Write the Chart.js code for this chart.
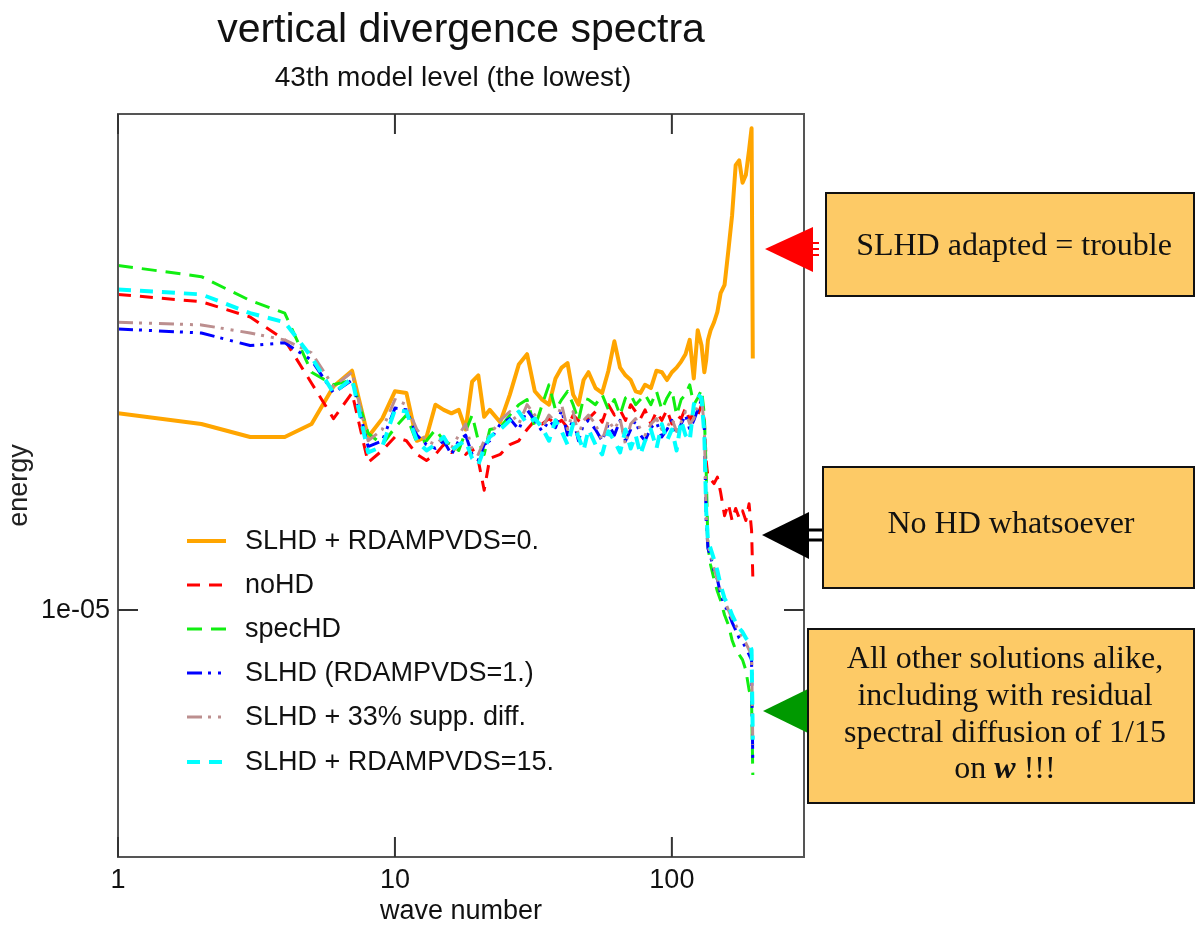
<!DOCTYPE html>
<html>
<head>
<meta charset="utf-8">
<title>vertical divergence spectra</title>
<script src="https://cdn.jsdelivr.net/npm/chart.js@4.4.1/dist/chart.umd.min.js"></script>
<style>
  html, body { margin: 0; padding: 0; background: #fff; }
  #wrap { width: 1196px; height: 926px; }
</style>
</head>
<body>
<div id="wrap"><canvas id="grafico" width="1196" height="926"></canvas></div>
<script>
// wave numbers where the spectra are sampled
const ondas = [1,2,3,4,5,6,7,8,9,10,11,12,13,14,15,16,17,18,19,20,21,22,
  24,26,28,30,32,34,36,38,40,42,44,46,48,50,
  53,56,59,62,65,68,71,74,77,80,
  84,88,92,96,100,104,108,112,116,120,124,128,
  131,133,135,
  138,142,146,150,
  155,160,165,170,175,180,185,190,
  194,196];

// energy of each run, in units of 1e-5
const slhdZero = [1.84,1.78,1.71,1.71,1.78,2.00,2.10,1.71,1.81,1.97,1.96,1.69,1.71,1.89,1.86,1.84,1.86,1.75,2.03,2.07,1.82,1.86,
  1.79,1.95,2.14,2.21,1.97,1.92,1.89,2.05,2.12,2.15,1.95,1.89,2.04,2.09,
  1.99,1.96,2.10,2.30,2.12,2.07,2.04,1.97,1.96,2.01,
  1.99,2.10,2.09,2.04,2.09,2.12,2.16,2.21,2.31,2.05,2.38,2.27,
  2.09,2.17,2.31,
  2.38,2.44,2.52,2.67,
  2.74,3.05,3.40,3.97,4.03,3.76,3.85,4.16,
  4.45,2.18];
const noHD = [2.66,2.60,2.48,2.31,2.02,1.81,1.96,1.58,1.64,1.71,1.69,1.62,1.59,1.62,1.67,1.63,1.67,1.62,1.65,1.59,1.45,1.60,
  1.62,1.67,1.69,1.75,1.80,1.78,1.81,1.78,1.80,1.76,1.83,1.80,1.78,1.81,
  1.85,1.79,1.89,1.83,1.86,1.80,1.89,1.85,1.81,1.86,
  1.78,1.85,1.80,1.86,1.78,1.83,1.81,1.87,1.80,1.85,1.83,1.89,
  1.80,1.59,1.51,
  1.50,1.48,1.51,1.44,
  1.34,1.39,1.32,1.37,1.33,1.36,1.32,1.39,
  1.28,1.11];
const specHD = [2.91,2.81,2.61,2.51,2.09,2.01,2.04,1.73,1.67,1.76,1.83,1.68,1.69,1.75,1.69,1.67,1.64,1.74,1.83,1.69,1.62,1.75,
  1.76,1.83,1.89,1.92,1.76,1.89,2.01,1.86,1.92,1.97,1.89,1.80,1.93,1.92,
  1.89,1.95,1.86,1.92,1.83,1.93,1.95,1.89,1.92,1.95,
  1.89,1.97,1.86,1.93,1.98,1.83,1.92,1.95,2.01,1.89,1.93,1.98,
  1.83,1.54,1.22,
  1.15,1.10,1.06,1.03,
  0.985,0.955,0.911,0.884,0.871,0.857,0.830,0.781,
  0.757,0.600];
const slhdUm = [2.39,2.36,2.27,2.29,2.17,1.96,2.04,1.66,1.69,1.87,1.86,1.72,1.67,1.65,1.69,1.62,1.69,1.72,1.62,1.59,1.67,1.69,
  1.78,1.81,1.75,1.86,1.80,1.74,1.80,1.76,1.86,1.72,1.81,1.69,1.78,1.80,
  1.75,1.69,1.78,1.72,1.80,1.69,1.75,1.80,1.72,1.69,
  1.76,1.79,1.71,1.75,1.80,1.72,1.78,1.83,1.75,1.80,1.86,1.92,
  1.75,1.32,1.21,
  1.18,1.13,1.10,1.05,
  1.015,0.994,0.963,0.940,0.917,0.906,0.889,0.871,
  0.857,0.622];
const slhdSupp = [2.44,2.42,2.36,2.31,2.22,2.00,2.09,1.69,1.75,1.92,1.89,1.75,1.69,1.67,1.71,1.65,1.72,1.78,1.64,1.62,1.69,1.72,
  1.80,1.85,1.78,1.89,1.83,1.76,1.83,1.79,1.89,1.75,1.85,1.72,1.80,1.83,
  1.78,1.69,1.80,1.75,1.81,1.67,1.78,1.81,1.75,1.72,
  1.78,1.81,1.75,1.76,1.81,1.74,1.79,1.85,1.78,1.81,1.89,1.93,
  1.76,1.34,1.22,
  1.19,1.14,1.10,1.06,
  1.031,1.000,0.975,0.955,0.934,0.917,0.903,0.884,
  0.871,0.659];
const slhdQuinze = [2.70,2.66,2.51,2.44,2.19,1.96,2.05,1.63,1.66,1.86,1.85,1.69,1.64,1.67,1.71,1.64,1.67,1.69,1.60,1.57,1.65,1.71,
  1.75,1.80,1.85,1.78,1.81,1.76,1.69,1.80,1.74,1.67,1.78,1.71,1.64,1.75,
  1.67,1.62,1.74,1.69,1.63,1.75,1.65,1.72,1.62,1.69,
  1.75,1.65,1.78,1.69,1.75,1.64,1.80,1.72,1.69,1.89,1.95,1.93,
  1.72,1.36,1.24,
  1.21,1.17,1.13,1.08,
  1.037,1.015,0.985,0.963,0.946,0.934,0.917,0.906,
  0.884,0.669];

const UNIDADE = 1e-5;
const X_TICKS = [1, 10, 100];
const X_LABELS = ['1', '10', '100'];
const Y_TICKS = [1e-5];
const Y_LABELS = ['1e-05'];

const SANS = "'Liberation Sans', Arial, sans-serif";
const SERIF = "'Liberation Serif', 'Times New Roman', serif";

const series = [
  { label: 'SLHD + RDAMPVDS=0.', vals: slhdZero, cor: '#ffa500', dash: [], largura: 4, ordem: 5 },
  { label: 'noHD', vals: noHD, cor: '#ff0000', dash: [13, 9], largura: 3, ordem: 4 },
  { label: 'specHD', vals: specHD, cor: '#11ee11', dash: [15, 9], largura: 3, ordem: 3 },
  { label: 'SLHD (RDAMPVDS=1.)', vals: slhdUm, cor: '#0000ff', dash: [15, 6, 3, 7, 3, 7], largura: 3, ordem: 2 },
  { label: 'SLHD + 33% supp. diff.', vals: slhdSupp, cor: '#bc8f8f', dash: [15, 6, 3, 7, 3, 7], largura: 3, ordem: 1 },
  { label: 'SLHD + RDAMPVDS=15.', vals: slhdQuinze, cor: '#00ffff', dash: [13, 9], largura: 4, ordem: 0 }
];

// frame with inward ticks on all four sides
const moldura = {
  id: 'moldura',
  afterDatasetsDraw(chart) {
    const { ctx, chartArea: a, scales: { x, y } } = chart;
    ctx.save();
    ctx.strokeStyle = '#555';
    ctx.lineWidth = 2;
    ctx.strokeRect(a.left, a.top, a.right - a.left, a.bottom - a.top);
    ctx.strokeStyle = '#333';
    ctx.beginPath();
    X_TICKS.forEach(v => {
      const px = x.getPixelForValue(v);
      ctx.moveTo(px, a.bottom); ctx.lineTo(px, a.bottom - 20);
      ctx.moveTo(px, a.top); ctx.lineTo(px, a.top + 20);
    });
    Y_TICKS.forEach(v => {
      const py = y.getPixelForValue(v);
      ctx.moveTo(a.left, py); ctx.lineTo(a.left + 20, py);
      ctx.moveTo(a.right, py); ctx.lineTo(a.right - 20, py);
    });
    ctx.stroke();
    ctx.restore();
  }
};

// legend inside the plot, bottom left
const legenda = {
  id: 'legenda',
  afterDraw(chart) {
    const ctx = chart.ctx;
    const linhas = [541, 585, 629, 673, 717, 762];
    ctx.save();
    chart.data.datasets.forEach((ds, i) => {
      const yy = linhas[i];
      ctx.beginPath();
      ctx.strokeStyle = ds.borderColor;
      ctx.lineWidth = ds.borderWidth;
      ctx.setLineDash(ds.borderDash || []);
      ctx.moveTo(187, yy);
      ctx.lineTo(226, yy);
      ctx.stroke();
      ctx.setLineDash([]);
      ctx.fillStyle = '#111';
      ctx.font = '27px ' + SANS;
      ctx.textBaseline = 'middle';
      ctx.textAlign = 'left';
      ctx.fillText(ds.label, 245, yy + 1);
    });
    ctx.restore();
  }
};

// titles and the three comment boxes on the right
const notas = {
  id: 'notas',
  afterDraw(chart) {
    const ctx = chart.ctx;
    ctx.save();
    ctx.fillStyle = '#111';
    ctx.textAlign = 'center';
    ctx.textBaseline = 'alphabetic';
    ctx.font = '41px ' + SANS;
    ctx.fillText('vertical divergence spectra', 461, 42);
    ctx.font = '28px ' + SANS;
    ctx.fillText('43th model level (the lowest)', 453, 86);

    function caixa(x0, y0, x1, y1) {
      ctx.fillStyle = '#fdca66';
      ctx.fillRect(x0, y0, x1 - x0, y1 - y0);
      ctx.strokeStyle = '#111';
      ctx.lineWidth = 2;
      ctx.strokeRect(x0, y0, x1 - x0, y1 - y0);
    }
    function seta(cor, ponta, topo, base, xb) {
      ctx.fillStyle = cor;
      ctx.beginPath();
      ctx.moveTo(ponta[0], ponta[1]);
      ctx.lineTo(xb, topo);
      ctx.lineTo(xb, base);
      ctx.closePath();
      ctx.fill();
    }

    // red arrow + box 1
    seta('#ff0000', [765, 249], 227, 272, 813);
    ctx.strokeStyle = '#ff0000';
    ctx.lineWidth = 2;
    ctx.beginPath();
    [243, 249, 255].forEach(yy => { ctx.moveTo(812, yy); ctx.lineTo(819, yy); });
    ctx.stroke();
    caixa(826, 193, 1194, 296);

    // black arrow + box 2
    seta('#000000', [762, 535], 512, 559, 809);
    ctx.strokeStyle = '#000';
    ctx.lineWidth = 3;
    ctx.beginPath();
    [530, 540].forEach(yy => { ctx.moveTo(806, yy); ctx.lineTo(824, yy); });
    ctx.stroke();
    caixa(823, 467, 1194, 588);

    // green arrow + box 3
    seta('#009900', [763, 711], 688, 734, 810);
    caixa(808, 629, 1194, 803);

    ctx.fillStyle = '#111';
    ctx.textAlign = 'center';
    ctx.font = '32px ' + SERIF;
    ctx.fillText('SLHD adapted = trouble', 1014, 255);
    ctx.fillText('No HD whatsoever', 1011, 533);
    ctx.fillText('All other solutions alike,', 1005, 668);
    ctx.fillText('including with residual', 1005, 705);
    ctx.fillText('spectral diffusion of 1/15', 1005, 742);

    // last line mixes a bold italic "w"
    const p1 = 'on ', p2 = 'w', p3 = ' !!!';
    ctx.font = '32px ' + SERIF;
    const w1 = ctx.measureText(p1).width, w3 = ctx.measureText(p3).width;
    ctx.font = 'italic bold 32px ' + SERIF;
    const w2 = ctx.measureText(p2).width;
    let xx = 1005 - (w1 + w2 + w3) / 2;
    ctx.textAlign = 'left';
    ctx.font = '32px ' + SERIF;
    ctx.fillText(p1, xx, 778);
    ctx.font = 'italic bold 32px ' + SERIF;
    ctx.fillText(p2, xx + w1, 778);
    ctx.font = '32px ' + SERIF;
    ctx.fillText(p3, xx + w1 + w2, 778);
    ctx.restore();
  }
};

const ctx = document.getElementById('grafico').getContext('2d');
new Chart(ctx, {
  type: 'line',
  data: {
    datasets: series.map(s => ({
      label: s.label,
      data: ondas.map((k, i) => ({ x: k, y: s.vals[i] * UNIDADE })),
      borderColor: s.cor,
      backgroundColor: s.cor,
      borderDash: s.dash,
      borderWidth: s.largura,
      borderJoinStyle: 'round',
      pointRadius: 0,
      tension: 0,
      fill: false,
      order: s.ordem
    }))
  },
  options: {
    responsive: false,
    animation: false,
    devicePixelRatio: 1,
    layout: { padding: { left: 0, top: 114, right: 392, bottom: 0 } },
    plugins: {
      legend: { display: false },
      tooltip: { enabled: false },
      title: { display: false }
    },
    scales: {
      x: {
        type: 'logarithmic',
        min: 1,
        max: 300,
        afterBuildTicks: scale => { scale.ticks = X_TICKS.map(v => ({ value: v })); },
        afterFit: scale => { scale.height = 69; },
        grid: { display: false, drawTicks: false },
        border: { display: false },
        ticks: {
          autoSkip: false,
          maxRotation: 0,
          padding: 7,
          color: '#111',
          font: { family: SANS, size: 27 },
          callback: (v, i) => X_LABELS[i]
        },
        title: {
          display: true,
          text: 'wave number',
          color: '#111',
          font: { family: SANS, size: 27, lineHeight: 1 },
          padding: { top: 0, bottom: 1 }
        }
      },
      y: {
        type: 'logarithmic',
        min: 4.653e-6,
        max: 4.652e-5,
        afterBuildTicks: scale => { scale.ticks = Y_TICKS.map(v => ({ value: v })); },
        afterFit: scale => { scale.width = 118; },
        grid: { display: false, drawTicks: false },
        border: { display: false },
        ticks: {
          autoSkip: false,
          padding: 8,
          color: '#111',
          font: { family: SANS, size: 27 },
          callback: (v, i) => Y_LABELS[i]
        },
        title: {
          display: true,
          text: 'energy',
          color: '#222',
          font: { family: SANS, size: 27, lineHeight: 1 },
          padding: { top: 6, bottom: 0 }
        }
      }
    }
  },
  plugins: [moldura, legenda, notas]
});
</script>
</body>
</html>
